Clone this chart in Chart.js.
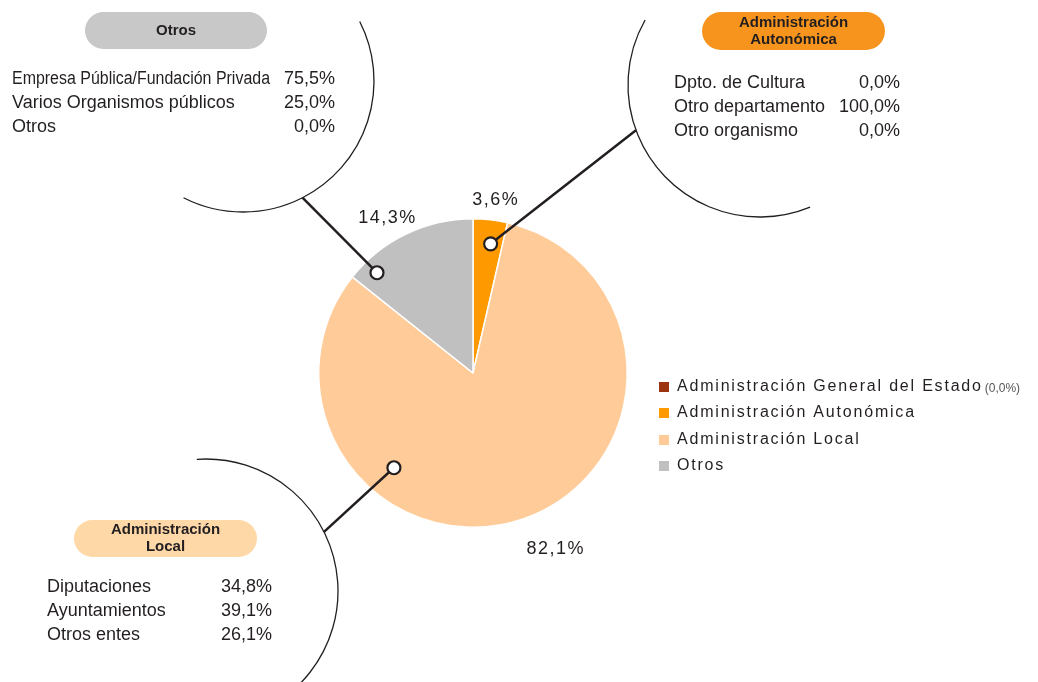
<!DOCTYPE html>
<html>
<head>
<meta charset="utf-8">
<script src="https://cdn.jsdelivr.net/npm/chart.js@4/dist/chart.umd.min.js"></script>
<style>
  html, body { margin: 0; padding: 0; background: #fff; }
  #wrap { width: 1038px; height: 682px; }
</style>
</head>
<body>
<div id="wrap"><canvas id="pie" width="1038" height="682"></canvas></div>
<script>
// --- data ---
const categories = ['Administración General del Estado', 'Administración Autonómica', 'Administración Local', 'Otros'];
const shares = [0.0, 3.6, 82.1, 14.3];
const shareLabels = ['0,0%', '3,6%', '82,1%', '14,3%'];
const colors = ['#9C3412', '#FF9900', '#FFCC99', '#C0C0C0'];

const otrosRows = ['Empresa Pública/Fundación Privada', 'Varios Organismos públicos', 'Otros'];
const otrosValues = ['75,5%', '25,0%', '0,0%'];
const autonomicaRows = ['Dpto. de Cultura', 'Otro departamento', 'Otro organismo'];
const autonomicaValues = ['0,0%', '100,0%', '0,0%'];
const localRows = ['Diputaciones', 'Ayuntamientos', 'Otros entes'];
const localValues = ['34,8%', '39,1%', '26,1%'];

// --- callout layout (slice index -> box) ---
const callouts = [
  { slice: 3, frac: 0.15, rf: 0.90, cx: 243, cy: 81, r: 131, a0: -27, a1: 117, lineEnd: 63,
    pill: { x: 85, y: 12, w: 182, h: 37, color: '#C8C8C8', lines: ['Otros'] },
    rows: otrosRows, values: otrosValues, left: 12, right: 335, top: 79 },
  { slice: 1, frac: 0.6, rf: 0.845, cx: 760, cy: 85, r: 132, a0: 67.7, a1: 209.5, lineEnd: 160,
    pill: { x: 702, y: 12, w: 183, h: 38, color: '#F7941D', lines: ['Administración', 'Autonómica'] },
    rows: autonomicaRows, values: autonomicaValues, left: 674, right: 900, top: 83 },
  { slice: 2, frac: 0.70, rf: 0.80, cx: 206, cy: 591, r: 132, a0: -94, a1: 80, lineEnd: -26.6,
    pill: { x: 74, y: 520, w: 183, h: 37, color: '#FFD8A8', lines: ['Administración', 'Local'] },
    rows: localRows, values: localValues, left: 47, right: 272, top: 587 }
];

// percentage label placement: fraction along slice, radius factor
const labelPlace = [null, { frac: 0.58, rf: 1.13 }, { frac: 0.48, rf: 1.26 }, { frac: 0.44, rf: 1.15 }];

const deg = Math.PI / 180;
const FONT = '"Liberation Sans", Arial, sans-serif';

function slicePoint(arc, frac, rf) {
  const a = arc.startAngle + frac * (arc.endAngle - arc.startAngle);
  const r = arc.outerRadius * rf;
  return { x: arc.x + Math.cos(a) * r, y: arc.y + Math.sin(a) * r };
}

const annotations = {
  id: 'annotations',
  afterDraw(chart) {
    const ctx = chart.ctx;
    const meta = chart.getDatasetMeta(0);
    ctx.save();

    // callouts
    callouts.forEach(c => {
      ctx.strokeStyle = '#231F20';
      ctx.lineWidth = 1.3;
      ctx.beginPath();
      ctx.arc(c.cx, c.cy, c.r, c.a0 * deg, c.a1 * deg);
      ctx.stroke();

      const m = slicePoint(meta.data[c.slice], c.frac, c.rf);
      const ex = c.cx + Math.cos(c.lineEnd * deg) * c.r;
      const ey = c.cy + Math.sin(c.lineEnd * deg) * c.r;
      ctx.lineWidth = 2.5;
      ctx.beginPath();
      ctx.moveTo(ex, ey);
      ctx.lineTo(m.x, m.y);
      ctx.stroke();

      ctx.fillStyle = '#fff';
      ctx.lineWidth = 2.2;
      ctx.beginPath();
      ctx.arc(m.x, m.y, 6.5, 0, Math.PI * 2);
      ctx.fill();
      ctx.stroke();

      // pill
      const p = c.pill;
      ctx.fillStyle = p.color;
      ctx.beginPath();
      ctx.roundRect(p.x, p.y, p.w, p.h, p.h / 2);
      ctx.fill();
      ctx.fillStyle = '#231F20';
      ctx.font = 'bold 15px ' + FONT;
      ctx.textAlign = 'center';
      ctx.textBaseline = 'middle';
      const lh = 17;
      const y0 = p.y + p.h / 2 - (p.lines.length - 1) * lh / 2;
      p.lines.forEach((t, i) => ctx.fillText(t, p.x + p.w / 2, y0 + i * lh));

      // rows
      ctx.font = '18px ' + FONT;
      c.rows.forEach((t, i) => {
        const y = c.top + i * 24;
        ctx.textAlign = 'left';
        ctx.fillText(t, c.left, y, c.right - c.left - 65);
        ctx.textAlign = 'right';
        ctx.fillText(c.values[i], c.right, y);
      });
    });

    // percentage labels
    ctx.fillStyle = '#231F20';
    ctx.font = '18px ' + FONT;
    ctx.textAlign = 'center';
    ctx.textBaseline = 'middle';
    ctx.letterSpacing = '1.5px';
    labelPlace.forEach((lp, i) => {
      if (!lp) return;
      const pt = slicePoint(meta.data[i], lp.frac, lp.rf);
      ctx.fillText(shareLabels[i], pt.x, pt.y);
    });

    // legend
    ctx.textAlign = 'left';
    ctx.font = '16px ' + FONT;
    ctx.letterSpacing = '1.8px';
    const ly = [387, 413, 440, 466];
    categories.forEach((name, i) => {
      ctx.fillStyle = colors[i];
      ctx.fillRect(659, ly[i] - 5, 10, 10);
      ctx.fillStyle = '#231F20';
      ctx.fillText(name, 677, ly[i]);
      if (shares[i] === 0) {
        const w = ctx.measureText(name).width;
        ctx.letterSpacing = '0px';
        ctx.font = '12px ' + FONT;
        ctx.fillStyle = '#555';
        ctx.fillText('(' + shareLabels[i] + ')', 677 + w + 2, ly[i] + 2);
        ctx.font = '16px ' + FONT;
        ctx.letterSpacing = '1.8px';
      }
    });
    ctx.restore();
  }
};

new Chart(document.getElementById('pie'), {
  type: 'pie',
  data: {
    labels: categories,
    datasets: [{
      data: shares,
      backgroundColor: colors,
      borderColor: '#fff',
      borderWidth: 1.5
    }]
  },
  options: {
    responsive: false,
    animation: false,
    layout: { padding: { left: 318, right: 410, top: 218, bottom: 154 } },
    plugins: {
      legend: { display: false },
      tooltip: { enabled: false }
    }
  },
  plugins: [annotations]
});
</script>
</body>
</html>
